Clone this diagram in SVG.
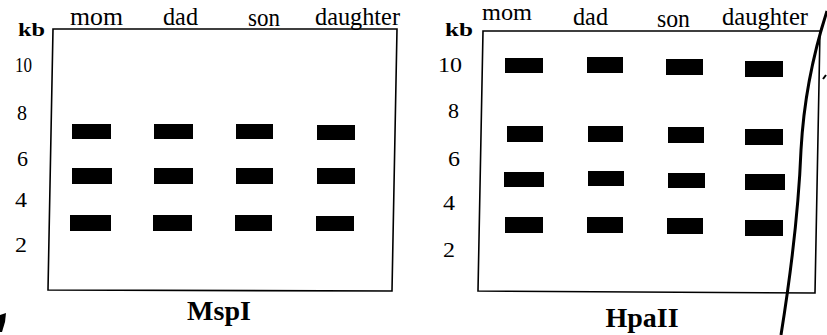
<svg xmlns="http://www.w3.org/2000/svg" width="827" height="335" viewBox="0 0 827 335">
<style>
.gel{fill:none;stroke:#000;stroke-width:1.6}
.band{fill:#000}
.lane{font-family:"Liberation Serif","Times New Roman",serif;font-size:26px;fill:#000}
.num{font-family:"Liberation Serif","Times New Roman",serif;font-size:22px;fill:#000}
.kb{font-family:"Liberation Serif","Times New Roman",serif;font-size:19px;font-weight:bold;fill:#000}
.enz{font-family:"Liberation Serif","Times New Roman",serif;font-size:28px;font-weight:bold;fill:#000;text-anchor:middle}
</style>
<rect width="827" height="335" fill="#fff"/>
<g id="gel-mspi">
  <polygon class="gel" points="53,29 397,29 392,291 48,290"/>
  <text class="kb" x="18" y="36" textLength="27" lengthAdjust="spacingAndGlyphs">kb</text>
  <text class="lane" x="70" y="25" textLength="53" lengthAdjust="spacingAndGlyphs">mom</text>
  <text class="lane" x="163" y="25" textLength="35" lengthAdjust="spacingAndGlyphs">dad</text>
  <text class="lane" x="248" y="26" textLength="32" lengthAdjust="spacingAndGlyphs">son</text>
  <text class="lane" x="315" y="25" textLength="85" lengthAdjust="spacingAndGlyphs">daughter</text>
  <text class="num" x="15" y="72" textLength="17" lengthAdjust="spacingAndGlyphs">10</text>
  <text class="num" x="17" y="120" textLength="10" lengthAdjust="spacingAndGlyphs">8</text>
  <text class="num" x="17" y="166" textLength="11" lengthAdjust="spacingAndGlyphs">6</text>
  <text class="num" x="15" y="207" textLength="12" lengthAdjust="spacingAndGlyphs">4</text>
  <text class="num" x="15" y="252" textLength="12" lengthAdjust="spacingAndGlyphs">2</text>
  <rect class="band" x="72" y="124" width="39" height="15"/>
  <rect class="band" x="154" y="124" width="39" height="15"/>
  <rect class="band" x="236" y="124" width="37" height="15"/>
  <rect class="band" x="317" y="125" width="38" height="15"/>
  <rect class="band" x="72" y="168" width="40" height="16"/>
  <rect class="band" x="154" y="168" width="39" height="16"/>
  <rect class="band" x="236" y="168" width="37" height="16"/>
  <rect class="band" x="317" y="168" width="38" height="16"/>
  <rect class="band" x="70" y="215" width="41" height="16"/>
  <rect class="band" x="153" y="215" width="39" height="16"/>
  <rect class="band" x="235" y="215" width="37" height="16"/>
  <rect class="band" x="316" y="216" width="38" height="15"/>
  <text class="enz" x="219" y="320">MspI</text>
</g>
<g id="gel-hpaii">
  <polygon class="gel" points="483,31 820,31 815,293 478,291"/>
  <text class="kb" x="445" y="36" textLength="28" lengthAdjust="spacingAndGlyphs">kb</text>
  <text class="lane" x="482" y="20" textLength="50" lengthAdjust="spacingAndGlyphs" style="font-size:24px">mom</text>
  <text class="lane" x="573" y="25" textLength="35" lengthAdjust="spacingAndGlyphs">dad</text>
  <text class="lane" x="657" y="27" textLength="33" lengthAdjust="spacingAndGlyphs">son</text>
  <text class="lane" x="722" y="25" textLength="86" lengthAdjust="spacingAndGlyphs">daughter</text>
  <text class="num" x="438" y="72" textLength="24" lengthAdjust="spacingAndGlyphs">10</text>
  <text class="num" x="448" y="118" textLength="11" lengthAdjust="spacingAndGlyphs">8</text>
  <text class="num" x="448" y="166" textLength="12" lengthAdjust="spacingAndGlyphs">6</text>
  <text class="num" x="443" y="210" textLength="12" lengthAdjust="spacingAndGlyphs">4</text>
  <text class="num" x="443" y="257" textLength="12" lengthAdjust="spacingAndGlyphs">2</text>
  <rect class="band" x="505" y="58" width="38" height="15"/>
  <rect class="band" x="587" y="57" width="36" height="16"/>
  <rect class="band" x="666" y="59" width="37" height="16"/>
  <rect class="band" x="745" y="61" width="38" height="16"/>
  <rect class="band" x="507" y="126" width="36" height="16"/>
  <rect class="band" x="588" y="126" width="35" height="16"/>
  <rect class="band" x="668" y="127" width="36" height="16"/>
  <rect class="band" x="745" y="129" width="38" height="16"/>
  <rect class="band" x="504" y="172" width="40" height="15"/>
  <rect class="band" x="588" y="171" width="36" height="15"/>
  <rect class="band" x="668" y="173" width="37" height="15"/>
  <rect class="band" x="745" y="174" width="40" height="16"/>
  <rect class="band" x="505" y="217" width="38" height="16"/>
  <rect class="band" x="587" y="217" width="36" height="16"/>
  <rect class="band" x="667" y="218" width="36" height="16"/>
  <rect class="band" x="745" y="220" width="38" height="16"/>
  <text class="enz" x="642" y="327">HpaII</text>
</g>
<g id="marks" fill="none" stroke="#000">
  <path d="M827,11 C816,45 804,95 801,150 C799,200 793,260 781,335" stroke-width="3"/>
  <path d="M823,79 L826,75" stroke-width="2"/>
  <polygon points="0,315 6,313 5,322 2,332 0,332" fill="#000" stroke="none"/>
</g>
</svg>
